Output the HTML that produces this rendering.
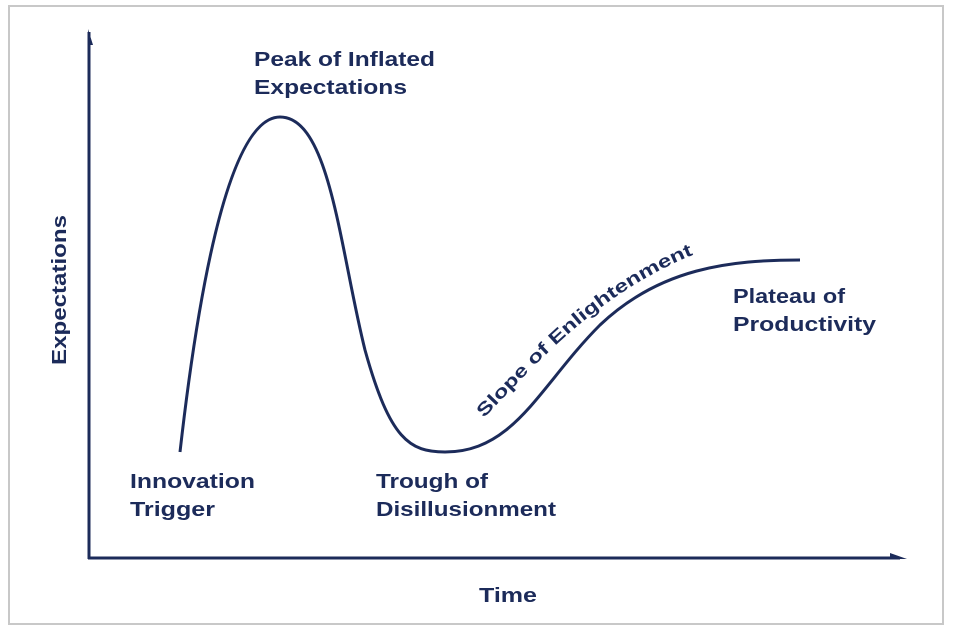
<!DOCTYPE html>
<html><head><meta charset="utf-8"><style>
body{margin:0;background:#fff;}
svg{display:block;}
text{font-family:"Liberation Sans",Arial,sans-serif;font-weight:bold;fill:#1c2b5a;}
</style></head><body>
<svg width="953" height="636" viewBox="0 0 953 636">
<rect x="9" y="6" width="934" height="618" fill="#fff" stroke="#c8c8c8" stroke-width="2"/>
<line x1="89" y1="32" x2="89" y2="559" stroke="#1c2b5a" stroke-width="3"/>
<polygon points="88,29 93,45 88,45" fill="#1c2b5a"/>
<line x1="88" y1="558" x2="900" y2="558" stroke="#1c2b5a" stroke-width="3"/>
<polygon points="890,553 907,559 890,559" fill="#1c2b5a"/>
<path d="M180,452 C195,320 225,117 280,117 C330,117 340,250 365,350 C390,440 410,452 445,452 C515,452 540,385 600,325 C660,268 730,260 800,260" fill="none" stroke="#1c2b5a" stroke-width="3"/>
<path id="tp" d="M484,418 C540,360 600,290 705,250" fill="none"/>
<text font-size="18"><textPath href="#tp" textLength="268" lengthAdjust="spacingAndGlyphs">Slope of Enlightenment</textPath></text>
<text font-size="20" x="254" y="66" textLength="181" lengthAdjust="spacingAndGlyphs">Peak of Inflated</text>
<text font-size="20" x="254" y="94" textLength="153" lengthAdjust="spacingAndGlyphs">Expectations</text>
<text font-size="20" x="130" y="488" textLength="125" lengthAdjust="spacingAndGlyphs">Innovation</text>
<text font-size="20" x="130" y="516" textLength="85" lengthAdjust="spacingAndGlyphs">Trigger</text>
<text font-size="20" x="376" y="488" textLength="112" lengthAdjust="spacingAndGlyphs">Trough of</text>
<text font-size="20" x="376" y="516" textLength="180" lengthAdjust="spacingAndGlyphs">Disillusionment</text>
<text font-size="20" x="733" y="303" textLength="112" lengthAdjust="spacingAndGlyphs">Plateau of</text>
<text font-size="20" x="733" y="331" textLength="143" lengthAdjust="spacingAndGlyphs">Productivity</text>
<text font-size="20" x="479" y="602" textLength="58" lengthAdjust="spacingAndGlyphs">Time</text>
<text font-size="20" transform="translate(66,365) rotate(-90)" textLength="150" lengthAdjust="spacingAndGlyphs">Expectations</text>
</svg>
</body></html>
